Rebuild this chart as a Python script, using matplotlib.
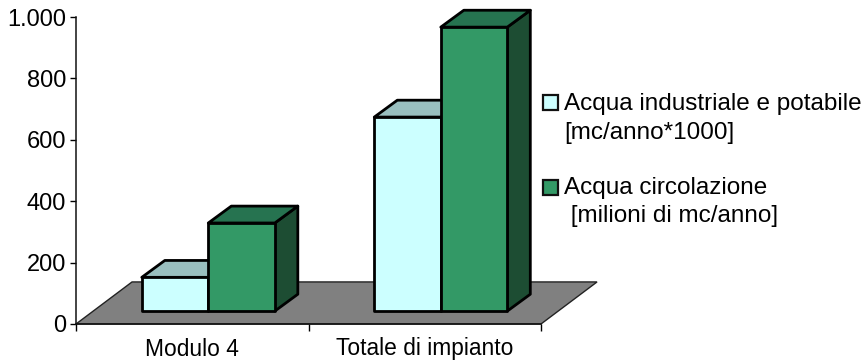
import matplotlib
matplotlib.use("Agg")
import matplotlib.pyplot as plt
from matplotlib.patches import Polygon, Rectangle

categories = ["Modulo 4", "Totale di impianto"]
series_names = ["Acqua industriale e potabile\n[mc/anno*1000]",
                "Acqua circolazione\n [milioni di mc/anno]"]
industriale = [110, 632]
circolazione = [287, 925]
y_ticks = [0, 200, 400, 600, 800, 1000]
y_tick_labels = ["0", "200", "400", "600", "800", "1.000"]

FRONT = ["#CCFFFF", "#339966"]
TOP = ["#99BFBF", "#267350"]
SIDE = ["#99BFBF", "#1D4D33"]

W, H = 867, 363
plt.rcParams["font.family"] = ["Liberation Sans", "DejaVu Sans"]
fig = plt.figure(figsize=(W / 100, H / 100), dpi=100)
ax = fig.add_axes([76 / W, 1 - 324 / H, (541 - 76) / W, (324 - 17) / H])
ax.set_xlim(0, 2)
ax.set_ylim(0, 1000)
ax.patch.set_visible(False)

# oblique projection, in axis units
floor_dx, floor_dy = 0.241, 137
bar_off_x, bar_off_y = 0.069, 42
depth_dx, depth_dy = 0.099, 55
bar_w = 0.286

ax.add_patch(Polygon([(0, 0), (2, 0), (2 + floor_dx, floor_dy), (floor_dx, floor_dy)],
                     closed=True, fc="#808080", ec="#222222", lw=1.0, clip_on=False, zorder=1))


def bar3d(x0, value, idx, z):
    y0 = bar_off_y
    y1 = y0 + value
    x1 = x0 + bar_w
    style = dict(closed=True, ec="black", lw=2.0, joinstyle="round", clip_on=False, zorder=z)
    ax.add_patch(Polygon([(x1, y0), (x1 + depth_dx, y0 + depth_dy),
                          (x1 + depth_dx, y1 + depth_dy), (x1, y1)], fc=SIDE[idx], **style))
    ax.add_patch(Polygon([(x0, y1), (x1, y1), (x1 + depth_dx, y1 + depth_dy),
                          (x0 + depth_dx, y1 + depth_dy)], fc=TOP[idx], **style))
    ax.add_patch(Polygon([(x0, y0), (x1, y0), (x1, y1), (x0, y1)], fc=FRONT[idx], **style))


for i in range(len(categories)):
    centre = i + 0.5 + bar_off_x
    bar3d(centre - bar_w, industriale[i], 0, 3)
    bar3d(centre, circolazione[i], 1, 4)

for s in ("top", "right"):
    ax.spines[s].set_visible(False)
for s in ("left", "bottom"):
    ax.spines[s].set_linewidth(1.1)
    ax.spines[s].set_color("#111111")
    ax.spines[s].set_zorder(2)

ax.set_yticks(y_ticks, y_tick_labels, fontsize=17)
ax.set_xticks([0, 1, 2])
ax.set_xticklabels([])
ax.tick_params(axis="y", length=4, width=1.0, pad=3)
ax.tick_params(axis="x", length=5, width=1.0)
for i, c in enumerate(categories):
    ax.annotate(c, (i + 0.5, 0), xytext=(-0.5, -25), textcoords="offset pixels",
                ha="center", va="center", fontsize=16.4)

# legend laid out by hand beside the plot
legend_rows = [(95, 104, 133), (180, 188, 216)]
for k, (sq_top, ty, ty2) in enumerate(legend_rows):
    fig.add_artist(Rectangle((543 / W, 1 - (sq_top + 15) / H), 15 / W, 15 / H,
                             transform=fig.transFigure, fc=FRONT[k], ec="#111111", lw=1.6))
    first, second = series_names[k].split("\n")
    fig.text(564.5 / W, 1 - ty / H, first, ha="left", va="center", fontsize=17.5)
    fig.text(564.5 / W, 1 - ty2 / H, second, ha="left", va="center", fontsize=17.5)

fig.savefig("out.png", dpi=100)
